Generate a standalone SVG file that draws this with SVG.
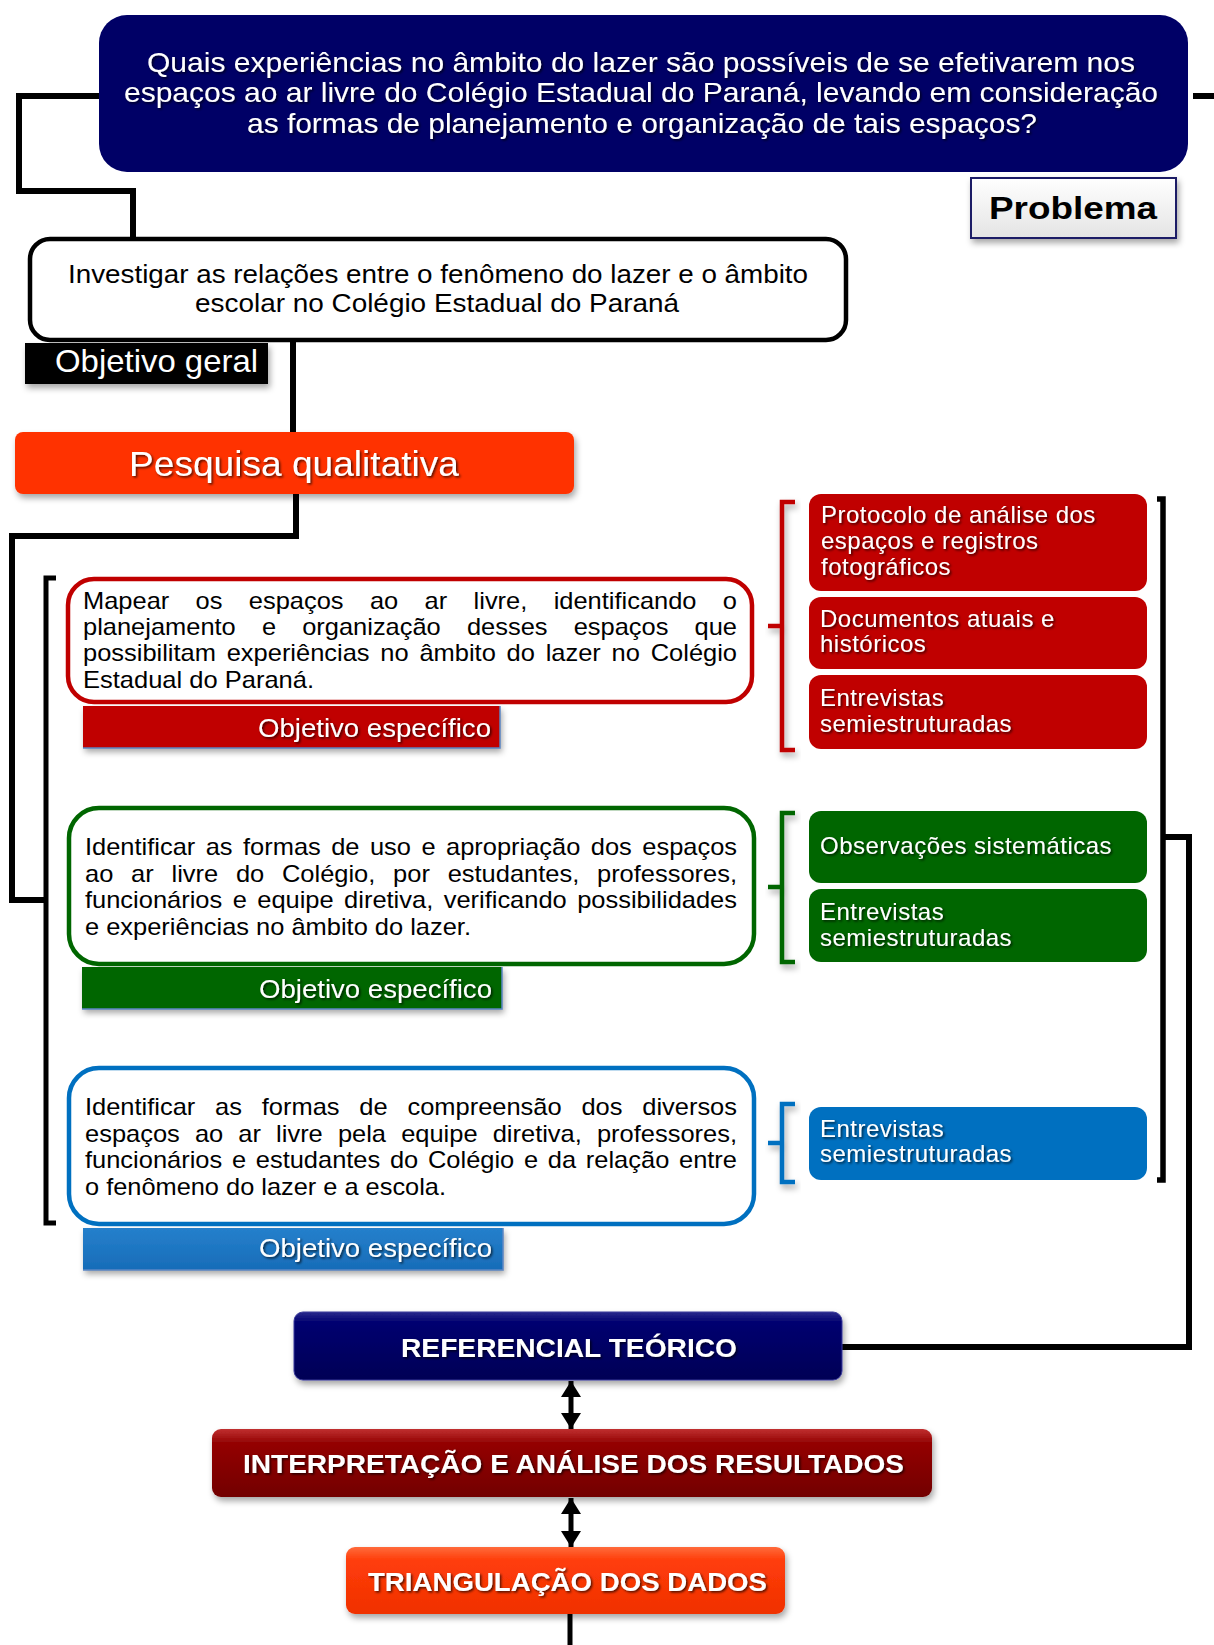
<svg xmlns="http://www.w3.org/2000/svg" width="1214" height="1645" viewBox="0 0 1214 1645">
<style>
.t{font-family:"Liberation Sans",Arial,sans-serif;}
.w{fill:#fff;filter:url(#ts);}
.k{fill:#000;}
.conn{fill:none;stroke:#000;stroke-width:6;}
.brk{fill:none;stroke-width:4.5;filter:url(#sh);}
.obj{fill:#fff;stroke-width:4.5;}
.lbl-edge{fill:none;stroke:#5B87C5;stroke-width:1.5;}
.mth{font-size:24px;letter-spacing:0.5px;}
.jus{font-size:24px;}
.lab{font-size:26px;}
.big{font-size:26px;font-weight:bold;}
</style>
<defs>
<filter id="sh" x="-10%" y="-20%" width="130%" height="160%"><feDropShadow dx="2" dy="4" stdDeviation="3" flood-color="#000" flood-opacity="0.35"/></filter>
<filter id="ts" x="-5%" y="-20%" width="110%" height="150%"><feDropShadow dx="1.5" dy="1.5" stdDeviation="1" flood-color="#000" flood-opacity="0.7"/></filter>
<linearGradient id="gGray" x1="0" y1="0" x2="0" y2="1"><stop offset="0" stop-color="#ffffff"/><stop offset="1" stop-color="#e4e4e4"/></linearGradient>
<linearGradient id="gNavy" x1="0" y1="0" x2="0" y2="1"><stop offset="0" stop-color="#2a2a8c"/><stop offset="0.15" stop-color="#000070"/><stop offset="1" stop-color="#000055"/></linearGradient>
<linearGradient id="gDark" x1="0" y1="0" x2="0" y2="1"><stop offset="0" stop-color="#c03030"/><stop offset="0.2" stop-color="#940404"/><stop offset="1" stop-color="#720000"/></linearGradient>
<linearGradient id="gOr" x1="0" y1="0" x2="0" y2="1"><stop offset="0" stop-color="#ff6a3a"/><stop offset="0.2" stop-color="#ff3d0a"/><stop offset="1" stop-color="#f03000"/></linearGradient>
<linearGradient id="gBlue" x1="0" y1="0" x2="0" y2="1"><stop offset="0" stop-color="#2580cc"/><stop offset="1" stop-color="#176cb8"/></linearGradient>
<marker id="ah" viewBox="0 0 16 20" markerWidth="16" markerHeight="20" refX="16" refY="10" orient="auto-start-reverse" markerUnits="userSpaceOnUse"><path d="M0,0 L16,10 L0,20 z" fill="#000"/></marker>
</defs>
<rect width="1214" height="1645" fill="#fff"/>

<g id="connectors">
<path class="conn" d="M99 96 H19 V191 H133 V237"/>
<path class="conn" d="M1193 96 H1214"/>
<path class="conn" d="M293 342 V432"/>
<path class="conn" d="M296 494 V536 H12 V900 H46"/>
<path class="conn" d="M56 578 H46 V1223 H56" style="stroke-width:5"/>
<path class="conn" d="M1157 499 H1163 V1180 H1157" style="stroke-width:5.5"/>
<path class="conn" d="M1163 837 H1189 V1347 H842"/>
<path class="brk" stroke="#C00000" d="M795 502 H782 V750 H795 M782 626 H768"/>
<path class="brk" stroke="#006600" d="M795 813 H782 V962 H795 M782 887 H768"/>
<path class="brk" stroke="#0070C0" d="M795 1104 H782 V1182 H795 M782 1143 H768"/>
<path d="M571 1381 V1429" stroke="#000" stroke-width="5" marker-start="url(#ah)" marker-end="url(#ah)"/>
<path d="M571 1498 V1547" stroke="#000" stroke-width="5" marker-start="url(#ah)" marker-end="url(#ah)"/>
<path class="conn" d="M570 1614 V1645" style="stroke-width:5"/>
</g>

<g id="problema">
<rect x="99" y="15" width="1089" height="157" rx="28" fill="#000066"/>
<text class="t w" font-size="28" text-anchor="middle" x="641" y="72" textLength="988" lengthAdjust="spacingAndGlyphs">Quais experiências no âmbito do lazer são possíveis de se efetivarem nos</text>
<text class="t w" font-size="28" text-anchor="middle" x="641" y="102" textLength="1034" lengthAdjust="spacingAndGlyphs">espaços ao ar livre do Colégio Estadual do Paraná, levando em consideração</text>
<text class="t w" font-size="28" text-anchor="middle" x="642" y="133" textLength="790" lengthAdjust="spacingAndGlyphs">as formas de planejamento e organização de tais espaços?</text>
</g>

<g id="problema-label">
<rect x="971" y="178" width="205" height="60" fill="url(#gGray)" stroke="#1F1F66" stroke-width="2" filter="url(#sh)"/>
<text class="t k" font-size="31" font-weight="bold" x="989" y="219" textLength="168" lengthAdjust="spacingAndGlyphs">Problema</text>
</g>

<g id="objetivo-geral">
<rect x="30" y="239" width="816" height="101" rx="20" fill="#fff" stroke="#000" stroke-width="4.5"/>
<text class="t k" font-size="26" text-anchor="middle" x="438" y="283" textLength="740" lengthAdjust="spacingAndGlyphs">Investigar as relações entre o fenômeno do lazer e o âmbito</text>
<text class="t k" font-size="26" text-anchor="middle" x="437" y="312" textLength="484" lengthAdjust="spacingAndGlyphs">escolar no Colégio Estadual do Paraná</text>
</g>

<g id="objetivo-geral-label">
<rect x="25" y="343" width="243" height="41" fill="#000" filter="url(#sh)"/>
<text class="t" fill="#fff" font-size="32" x="55" y="372" textLength="203" lengthAdjust="spacingAndGlyphs">Objetivo geral</text>
</g>

<g id="pesquisa">
<rect x="15" y="432" width="559" height="62" rx="8" fill="#FF3300" filter="url(#sh)"/>
<text class="t w" font-size="35" x="129" y="476" textLength="330" lengthAdjust="spacingAndGlyphs">Pesquisa qualitativa</text>
</g>

<g id="obj-esp-1">
<rect class="obj" x="68" y="579" width="684" height="123" rx="26" stroke="#C00000"/>
<text class="t k jus" x="83" y="609" style="word-spacing:18.2px" textLength="654" lengthAdjust="spacingAndGlyphs">Mapear os espaços ao ar livre, identificando o</text>
<text class="t k jus" x="83" y="635" style="word-spacing:18px" textLength="654" lengthAdjust="spacingAndGlyphs">planejamento e organização desses espaços que</text>
<text class="t k jus" x="83" y="661" style="word-spacing:3.5px" textLength="654" lengthAdjust="spacingAndGlyphs">possibilitam experiências no âmbito do lazer no Colégio</text>
<text class="t k jus" x="83" y="688" textLength="231" lengthAdjust="spacingAndGlyphs">Estadual do Paraná.</text>
</g>
<g id="obj-esp-1-label">
<rect x="83" y="706" width="417" height="42" fill="#C00000" filter="url(#sh)"/>
<path class="lbl-edge" d="M500 706 V748 H83"/>
<text class="t w lab" x="258" y="737" textLength="233" lengthAdjust="spacingAndGlyphs">Objetivo específico</text>
</g>

<g id="metodos-1">
<rect x="809" y="494" width="338" height="97" rx="12" fill="#C00000"/>
<text class="t w mth" x="821" y="523">Protocolo de análise dos</text>
<text class="t w mth" x="821" y="549">espaços e registros</text>
<text class="t w mth" x="821" y="575">fotográficos</text>
<rect x="809" y="597" width="338" height="72" rx="12" fill="#C00000"/>
<text class="t w mth" x="820" y="627">Documentos atuais e</text>
<text class="t w mth" x="820" y="652">históricos</text>
<rect x="809" y="675" width="338" height="74" rx="12" fill="#C00000"/>
<text class="t w mth" x="820" y="706">Entrevistas</text>
<text class="t w mth" x="820" y="732">semiestruturadas</text>
</g>

<g id="obj-esp-2">
<rect class="obj" x="69" y="808" width="685" height="156" rx="30" stroke="#006600"/>
<text class="t k jus" x="85" y="855" style="word-spacing:3.2px" textLength="652" lengthAdjust="spacingAndGlyphs">Identificar as formas de uso e apropriação dos espaços</text>
<text class="t k jus" x="85" y="882" style="word-spacing:10.1px" textLength="652" lengthAdjust="spacingAndGlyphs">ao ar livre do Colégio, por estudantes, professores,</text>
<text class="t k jus" x="85" y="908" style="word-spacing:3.2px" textLength="652" lengthAdjust="spacingAndGlyphs">funcionários e equipe diretiva, verificando possibilidades</text>
<text class="t k jus" x="85" y="935" textLength="386" lengthAdjust="spacingAndGlyphs">e experiências no âmbito do lazer.</text>
</g>
<g id="obj-esp-2-label">
<rect x="82" y="967" width="420" height="42" fill="#006600" filter="url(#sh)"/>
<path class="lbl-edge" d="M502 967 V1009 H82"/>
<text class="t w lab" x="259" y="998" textLength="233" lengthAdjust="spacingAndGlyphs">Objetivo específico</text>
</g>

<g id="metodos-2">
<rect x="809" y="811" width="338" height="72" rx="12" fill="#006600"/>
<text class="t w mth" x="820" y="854">Observações sistemáticas</text>
<rect x="809" y="889" width="338" height="73" rx="12" fill="#006600"/>
<text class="t w mth" x="820" y="920">Entrevistas</text>
<text class="t w mth" x="820" y="946">semiestruturadas</text>
</g>

<g id="obj-esp-3">
<rect class="obj" x="69" y="1068" width="685" height="156" rx="30" stroke="#0070C0"/>
<text class="t k jus" x="85" y="1115" style="word-spacing:12px" textLength="652" lengthAdjust="spacingAndGlyphs">Identificar as formas de compreensão dos diversos</text>
<text class="t k jus" x="85" y="1142" style="word-spacing:7.6px" textLength="652" lengthAdjust="spacingAndGlyphs">espaços ao ar livre pela equipe diretiva, professores,</text>
<text class="t k jus" x="85" y="1168" style="word-spacing:2.5px" textLength="652" lengthAdjust="spacingAndGlyphs">funcionários e estudantes do Colégio e da relação entre</text>
<text class="t k jus" x="85" y="1195" textLength="361" lengthAdjust="spacingAndGlyphs">o fenômeno do lazer e a escola.</text>
</g>
<g id="obj-esp-3-label">
<rect x="83" y="1228" width="420" height="42" fill="url(#gBlue)" filter="url(#sh)"/>
<path class="lbl-edge" d="M503 1228 V1270 H83"/>
<text class="t w lab" x="259" y="1257" textLength="233" lengthAdjust="spacingAndGlyphs">Objetivo específico</text>
</g>

<g id="metodos-3">
<rect x="809" y="1107" width="338" height="73" rx="12" fill="#0070C0"/>
<text class="t w mth" x="820" y="1137">Entrevistas</text>
<text class="t w mth" x="820" y="1162">semiestruturadas</text>
</g>

<g id="referencial">
<rect x="294" y="1312" width="548" height="68" rx="9" fill="url(#gNavy)" stroke="#3a3a9a" stroke-width="1" filter="url(#sh)"/>
<text class="t w big" x="401" y="1357" textLength="336" lengthAdjust="spacingAndGlyphs">REFERENCIAL TEÓRICO</text>
</g>

<g id="interpretacao">
<rect x="212" y="1429" width="720" height="68" rx="9" fill="url(#gDark)" filter="url(#sh)"/>
<text class="t w big" x="243" y="1473" textLength="661" lengthAdjust="spacingAndGlyphs">INTERPRETAÇÃO E ANÁLISE DOS RESULTADOS</text>
</g>

<g id="triangulacao">
<rect x="346" y="1547" width="439" height="67" rx="9" fill="url(#gOr)" filter="url(#sh)"/>
<text class="t w big" x="368" y="1591" textLength="399" lengthAdjust="spacingAndGlyphs">TRIANGULAÇÃO DOS DADOS</text>
</g>
</svg>
